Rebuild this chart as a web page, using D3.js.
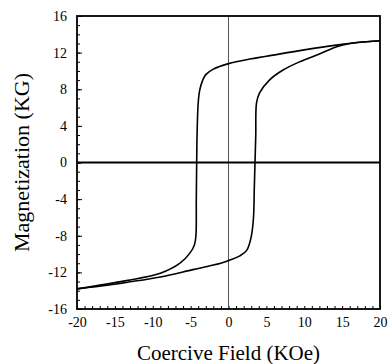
<!DOCTYPE html>
<html>
<head>
<meta charset="utf-8">
<script src="https://cdn.jsdelivr.net/npm/d3@7"></script>
<style>
  body { margin: 0; background: #fff; }
  text { font-family: "Liberation Serif", "DejaVu Serif", serif; fill: #000; }
</style>
</head>
<body>
<div id="chart"></div>
<script>
// descending branch (field swept from +20 to -20)
var downH = [20, 17, 14.5, 10, 5, 2.8, 0, -2, -3, -3.4, -3.8, -4.0, -4.15, -4.2, -4.25, -4.3, -4.5, -5.1, -6.4, -9, -13.5, -20];
var downM = [13.3, 13.1, 12.85, 12.3, 11.6, 11.3, 10.8, 10.2, 9.6, 9.0, 7.9, 6.5, 3, 0, -4, -8, -9.0, -9.9, -11.0, -12.1, -12.9, -13.8];
// ascending branch (field swept from -20 to +20)
var upH = [-20, -15, -13.5, -9, -4.7, -2, -0.3, 1.5, 2.4, 3.0, 3.3, 3.4, 3.5, 3.6, 3.7, 4.1, 5.4, 7.2, 9.4, 12, 14.5, 17, 20];
var upM = [-13.8, -13.3, -13.1, -12.5, -11.7, -11.2, -10.8, -10.2, -9.6, -8.1, -6, -3, 0, 3, 6.5, 7.6, 9.0, 10.1, 11.0, 11.85, 12.7, 13.1, 13.3];

var xTicks = [-20, -15, -10, -5, 0, 5, 10, 15, 20];
var yTicks = [-16, -12, -8, -4, 0, 4, 8, 12, 16];

var width = 388,
    height = 364;
var margin = { top: 16, right: 8, bottom: 55, left: 77 };

var svg = d3.select("#chart")
    .append("svg")
    .attr("width", width)
    .attr("height", height);

var x = d3.scaleLinear()
    .domain([-20, 20])
    .range([margin.left, width - margin.right]);

var y = d3.scaleLinear()
    .domain([-16, 16])
    .range([height - margin.bottom, margin.top]);

// minor ticks, inward
svg.append("g")
    .attr("transform", "translate(0," + y(-16) + ")")
    .call(d3.axisTop(x).ticks(40).tickSize(3).tickFormat(""))
    .call(g => g.select(".domain").remove());

svg.append("g")
    .attr("transform", "translate(" + x(-20) + ",0)")
    .call(d3.axisRight(y).ticks(32).tickSize(3).tickFormat(""))
    .call(g => g.select(".domain").remove());

// major ticks + labels (plain hyphen for negatives)
svg.append("g")
    .attr("transform", "translate(0," + y(-16) + ")")
    .call(d3.axisBottom(x).tickValues(xTicks).tickSize(0).tickPadding(8).tickFormat(d => String(d)))
    .call(g => g.select(".domain").remove())
    .selectAll("text")
    .style("font-size", "14px");

svg.append("g")
    .attr("transform", "translate(" + x(-20) + ",0)")
    .call(d3.axisLeft(y).tickValues(yTicks).tickSize(0).tickPadding(10).tickFormat(d => String(d)))
    .call(g => g.select(".domain").remove())
    .selectAll("text")
    .style("font-size", "14px");

svg.append("g")
    .attr("transform", "translate(" + x(-20) + ",0)")
    .call(d3.axisRight(y).tickValues(yTicks).tickSize(5).tickFormat(""))
    .call(g => g.select(".domain").remove());

// zero lines
svg.append("line")
    .attr("x1", x(0)).attr("x2", x(0))
    .attr("y1", y(16)).attr("y2", y(-16))
    .attr("stroke", "#555")
    .attr("stroke-width", 1);

svg.append("line")
    .attr("x1", x(-20)).attr("x2", x(20))
    .attr("y1", y(0)).attr("y2", y(0))
    .attr("stroke", "#000")
    .attr("stroke-width", 2);

// frame
svg.append("rect")
    .attr("x", x(-20))
    .attr("y", y(16))
    .attr("width", x(20) - x(-20))
    .attr("height", y(-16) - y(16))
    .attr("fill", "none")
    .attr("stroke", "#000")
    .attr("stroke-width", 1.8);

var line = d3.line()
    .x(d => x(d[0]))
    .y(d => y(d[1]))
    .curve(d3.curveCatmullRom.alpha(0.5));

svg.append("path")
    .datum(downH.map((h, i) => [h, downM[i]]))
    .attr("d", line)
    .attr("fill", "none")
    .attr("stroke", "#000")
    .attr("stroke-width", 1.6);

svg.append("path")
    .datum(upH.map((h, i) => [h, upM[i]]))
    .attr("d", line)
    .attr("fill", "none")
    .attr("stroke", "#000")
    .attr("stroke-width", 1.6);

// axis titles
svg.append("text")
    .attr("x", x(0))
    .attr("y", 360)
    .attr("text-anchor", "middle")
    .style("font-size", "21px")
    .text("Coercive Field (KOe)");

svg.append("text")
    .attr("transform", "translate(29," + y(0) + ") rotate(-90)")
    .attr("text-anchor", "middle")
    .style("font-size", "22px")
    .text("Magnetization (KG)");
</script>
</body>
</html>
